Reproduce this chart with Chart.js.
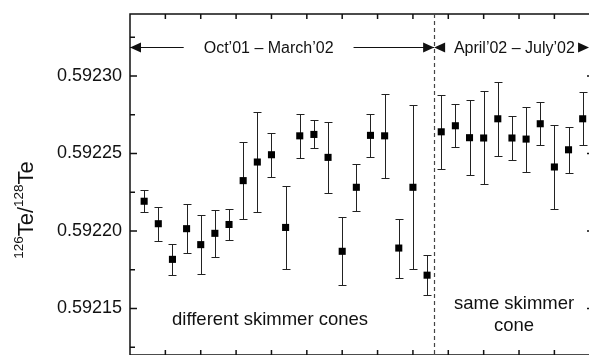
<!DOCTYPE html>
<html>
<head>
<meta charset="utf-8">
<script src="https://cdn.jsdelivr.net/npm/chart.js@4.4.1/dist/chart.umd.min.js"></script>
<style>
  html, body { margin: 0; padding: 0; background: #fff; overflow: hidden; }
  #wrap { width: 589px; height: 355px; overflow: hidden; }
</style>
</head>
<body>
<div id="wrap"><canvas id="chartTe" width="600" height="360"></canvas></div>
<script>
/* 126Te/128Te ratio per measurement run, with error bars */

// measurement runs (x positions)
const runs = [1, 2, 3, 4, 5, 6, 7, 8, 9, 10, 11, 12, 13, 14, 15, 16,
              17, 18, 19, 20, 21, 22, 23, 24, 25, 26, 27, 28, 29, 30, 31, 32];

// 126Te/128Te ratio
const ratio = [0.5922192, 0.5922047, 0.5921817, 0.5922015, 0.5921912, 0.5921985, 0.5922042, 0.5922325,
               0.5922445, 0.5922492, 0.5922023, 0.5922614, 0.5922623, 0.5922475, 0.5921869, 0.5922282,
               0.5922617, 0.5922614, 0.5921890, 0.5922282, 0.5921715, 0.5922640, 0.5922679, 0.5922602,
               0.5922600, 0.5922724, 0.5922600, 0.5922593, 0.5922692, 0.5922413, 0.5922524, 0.5922724];

// 1-sigma uncertainty
const ratioErr = [0.0000072, 0.0000110, 0.0000100, 0.0000160, 0.0000190, 0.0000150, 0.0000100, 0.0000250,
                  0.0000320, 0.0000143, 0.0000270, 0.0000140, 0.0000090, 0.0000230, 0.0000220, 0.0000150,
                  0.0000140, 0.0000270, 0.0000190, 0.0000530, 0.0000130, 0.0000240, 0.0000140, 0.0000240,
                  0.0000300, 0.0000240, 0.0000140, 0.0000210, 0.0000140, 0.0000270, 0.0000150, 0.0000170];

// axis ticks
const yTicks = [0.59215, 0.59220, 0.59225, 0.59230];
const yMinorTicks = [0.592125, 0.592175, 0.592225, 0.592275, 0.592325];
const xTicks = [2.5, 5, 7.5, 10, 12.5, 15, 17.5, 20, 22.5, 25, 27.5, 30, 32.5];

// period split and annotation texts
const periodEdges = [0, 21.5, 32.45];
const periodLabels = ['Oct\u201901 \u2013 March\u201902', 'April\u201902 \u2013 July\u201902'];
const periodLabelX = [9.8, 27.17];
const periodArrowY = 0.592319;
const coneLabels = [['different skimmer cones'], ['same skimmer', 'cone']];
const coneLabelX = [9.9, 27.15];
const coneLabelY = [[0.5921393], [0.5921496, 0.5921354]];

const FONT = "'Liberation Sans', Arial, Helvetica, sans-serif";
const INK = '#111';

Chart.defaults.font.family = FONT;

// Error bars drawn under the square markers
const errorBars = {
    id: 'errorBars',
    beforeDatasetsDraw(chart) {
        const { ctx, scales: { x, y } } = chart;
        ctx.save();
        ctx.strokeStyle = '#222';
        ctx.lineWidth = 1;
        ctx.beginPath();
        runs.forEach((r, i) => {
            const px = Math.round(x.getPixelForValue(r)) + 0.5;
            const hi = Math.round(y.getPixelForValue(ratio[i] + ratioErr[i])) + 0.5;
            const lo = Math.round(y.getPixelForValue(ratio[i] - ratioErr[i])) + 0.5;
            ctx.moveTo(px, hi); ctx.lineTo(px, lo);
            ctx.moveTo(px - 4, hi); ctx.lineTo(px + 4, hi);
            ctx.moveTo(px - 4, lo); ctx.lineTo(px + 4, lo);
        });
        ctx.stroke();
        ctx.restore();
    }
};

// Box frame with inward ticks on all four sides
const frame = {
    id: 'frame',
    afterDraw(chart) {
        const { ctx, chartArea: a, scales: { x, y } } = chart;
        ctx.save();
        ctx.strokeStyle = INK;
        ctx.lineWidth = 1.5;
        ctx.strokeRect(a.left, a.top, a.right - a.left, a.bottom - a.top);
        ctx.beginPath();
        xTicks.forEach(v => {
            const px = x.getPixelForValue(v);
            ctx.moveTo(px, a.top); ctx.lineTo(px, a.top + 5);
            ctx.moveTo(px, a.bottom); ctx.lineTo(px, a.bottom - 5);
        });
        yTicks.forEach(v => {
            const py = y.getPixelForValue(v);
            ctx.moveTo(a.left, py); ctx.lineTo(a.left + 7, py);
            ctx.moveTo(a.right, py); ctx.lineTo(a.right - 7, py);
        });
        yMinorTicks.forEach(v => {
            const py = y.getPixelForValue(v);
            ctx.moveTo(a.left, py); ctx.lineTo(a.left + 5, py);
            ctx.moveTo(a.right, py); ctx.lineTo(a.right - 5, py);
        });
        ctx.stroke();
        ctx.restore();
    }
};

function arrowHead(ctx, tipX, py, dir) {
    ctx.beginPath();
    ctx.moveTo(tipX, py);
    ctx.lineTo(tipX - dir * 11, py - 5);
    ctx.lineTo(tipX - dir * 11, py + 5);
    ctx.closePath();
    ctx.fill();
}

// Period arrows, divider and cone notes
const notes = {
    id: 'notes',
    afterDraw(chart) {
        const { ctx, chartArea: a, scales: { x, y } } = chart;
        ctx.save();

        // dashed divider
        const dx = Math.round(x.getPixelForValue(periodEdges[1])) + 0.5;
        ctx.strokeStyle = '#444';
        ctx.lineWidth = 1.2;
        ctx.setLineDash([4, 3]);
        ctx.beginPath();
        ctx.moveTo(dx, a.top); ctx.lineTo(dx, a.bottom);
        ctx.stroke();
        ctx.setLineDash([]);

        // period arrows
        const ay = Math.round(y.getPixelForValue(periodArrowY)) + 0.5;
        ctx.font = '16px ' + FONT;
        ctx.fillStyle = INK;
        ctx.strokeStyle = INK;
        ctx.lineWidth = 1;
        ctx.textAlign = 'center';
        ctx.textBaseline = 'middle';
        periodLabels.forEach((txt, i) => {
            const left = x.getPixelForValue(periodEdges[i]);
            const right = x.getPixelForValue(periodEdges[i + 1]);
            const cx = x.getPixelForValue(periodLabelX[i]);
            const w = ctx.measureText(txt).width;
            ctx.fillText(txt, cx, ay + 1);
            ctx.beginPath();
            if (cx - w / 2 - 20 > left + 11) {
                ctx.moveTo(left, ay); ctx.lineTo(cx - w / 2 - 20, ay);
            }
            if (cx + w / 2 + 20 < right - 11) {
                ctx.moveTo(cx + w / 2 + 20, ay); ctx.lineTo(right, ay);
            }
            ctx.stroke();
            arrowHead(ctx, left, ay, -1);
            arrowHead(ctx, right, ay, 1);
        });

        // cone notes
        ctx.font = '18.5px ' + FONT;
        ctx.textBaseline = 'alphabetic';
        coneLabels.forEach((lines, i) => {
            lines.forEach((txt, j) => {
                ctx.fillText(txt, x.getPixelForValue(coneLabelX[i]), y.getPixelForValue(coneLabelY[i][j]));
            });
        });
        ctx.restore();
    }
};

// Rotated y title with superscript mass numbers
const yTitle = {
    id: 'yTitle',
    afterDraw(chart) {
        const { ctx } = chart;
        const parts = [['126', true], ['Te/', false], ['128', true], ['Te', false]];
        const big = '22px ' + FONT, small = '13.5px ' + FONT;
        ctx.save();
        ctx.fillStyle = INK;
        ctx.textAlign = 'left';
        ctx.textBaseline = 'alphabetic';
        let total = 0;
        parts.forEach(([t, sup]) => { ctx.font = sup ? small : big; total += ctx.measureText(t).width; });
        ctx.translate(33, 210);
        ctx.rotate(-Math.PI / 2);
        let cx = -total / 2;
        parts.forEach(([t, sup]) => {
            ctx.font = sup ? small : big;
            ctx.fillText(t, cx, sup ? -10 : 0);
            cx += ctx.measureText(t).width;
        });
        ctx.restore();
    }
};

new Chart(document.getElementById('chartTe'), {
    type: 'scatter',
    data: {
        datasets: [{
            data: runs.map((r, i) => ({ x: r, y: ratio[i] })),
            backgroundColor: '#000',
            borderColor: '#000',
            borderWidth: 0,
            pointStyle: 'rect',
            pointRadius: 5,
            pointHoverRadius: 5
        }]
    },
    options: {
        responsive: false,
        animation: false,
        events: [],
        layout: { padding: { top: 14, right: 6, bottom: 3, left: 0 } },
        plugins: {
            legend: { display: false },
            tooltip: { enabled: false }
        },
        scales: {
            x: {
                type: 'linear',
                display: false,
                min: 0,
                max: 32.8
            },
            y: {
                type: 'linear',
                min: 0.59212,
                max: 0.59234,
                grid: { display: false, drawTicks: false },
                border: { display: false },
                afterFit: (scale) => {
                    scale.width = 130;
                    scale.paddingTop = 0;
                    scale.paddingBottom = 0;
                },
                afterBuildTicks: (scale) => { scale.ticks = yTicks.map(v => ({ value: v })); },
                ticks: {
                    padding: 8,
                    color: INK,
                    font: { size: 18 },
                    callback: (v) => Number(v).toFixed(5)
                }
            }
        }
    },
    plugins: [errorBars, frame, notes, yTitle]
});
</script>
</body>
</html>
